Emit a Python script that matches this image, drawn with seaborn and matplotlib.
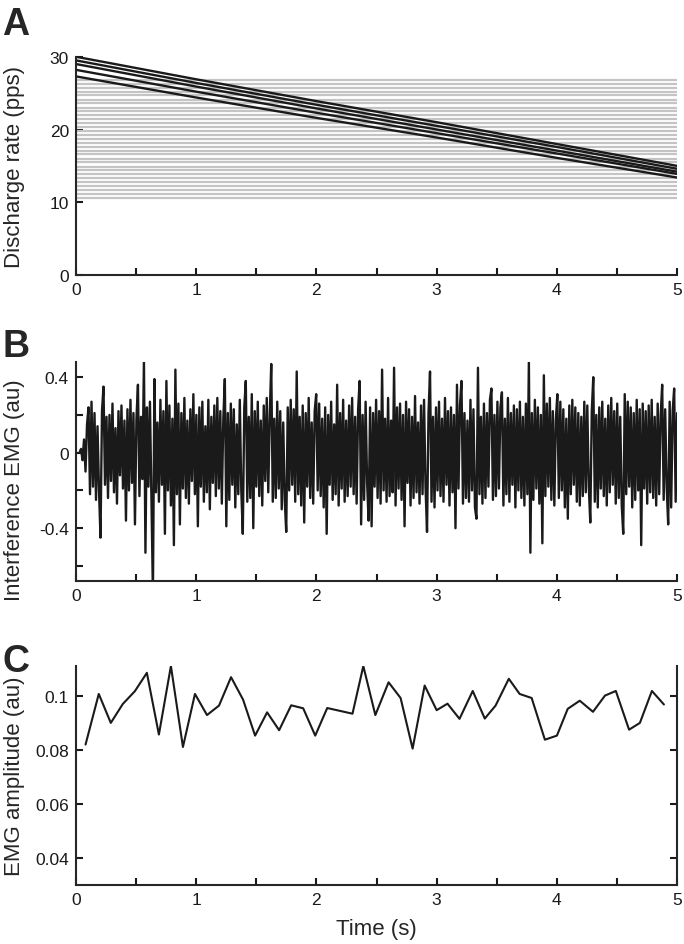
import numpy as np
import pandas as pd
import matplotlib
matplotlib.use('Agg')
import matplotlib.pyplot as plt
import seaborn as sns

# ------------------------------------------------------- #
#                          DATOS                          #
# ------------------------------------------------------- #
# A: discharge rate of the tracked units (black) and the flat gray units
rate_t = [0, 1, 2, 3, 4, 5]
rate_units = {
    'u1': [30.0, 26.9, 23.9, 21.0, 18.0, 15.0],
    'u2': [29.5, 26.4, 23.4, 20.5, 17.6, 14.6],
    'u3': [29.0, 25.9, 22.9, 20.0, 17.1, 14.2],
    'u4': [28.2, 25.2, 22.3, 19.5, 16.7, 13.9],
    'u5': [27.3, 24.4, 21.6, 18.9, 16.1, 13.4],
}
gray_levels = [10.6, 11.1, 11.7, 12.2, 12.8, 13.3, 13.9, 14.4, 14.9, 15.5,
               16.0, 16.6, 17.1, 17.6, 18.2, 18.7, 19.3, 19.8, 20.3, 20.9,
               21.4, 22.0, 22.5, 23.0, 23.6, 24.1, 24.7, 25.2, 25.7, 26.3, 26.8]
time_span = [0, 5]

# B: interference EMG (hundredths of au)
emg_hundredths = [
    0, 2, -4, 7, -10, 15, 24, -22, 27, -18, 21, -25, 14, -20, -45, 22, 35, -17, 19, -24,
    20, -15, 26, -21, 13, -27, 22, -12, 25, -19, 17, -36, 23, -20, 28, -16, 21, -38, 18, 36,
    -23, 19, -14, 49, -53, 24, -18, 27, -25, -75, 39, -21, 16, -26, 28, -17, 22, -43, 38, -20,
    25, -28, 18, -49, 44, -22, 26, -38, 21, -19, 29, -24, 17, -27, 23, -15, 31, -22, 20, -39,
    24, -18, 27, -26, 14, -21, 28, -30, 19, -16, 25, -23, 29, -19, 22, -27, 18, 39, -39, 21,
    -25, 26, -17, 23, -29, 15, -22, 28, -20, -43, 24, 38, -26, 19, -24, 31, -40, 22, -18, 27,
    -23, 17, -28, 25, -15, 29, -21, 20, 47, -26, 18, -24, 27, -19, 22, -30, 16, -25, -42, 24,
    -20, 28, -17, 23, -26, 43, -22, 19, -28, 25, -37, 21, -18, 29, -24, 16, -27, 22, 31, -20,
    26, -23, 18, -29, 24, -43, 20, -17, 27, -25, 15, -22, 36, -28, 21, -19, 28, -26, 17, -23,
    25, -18, 29, -22, 19, -27, 23, 38, -38, 20, -25, 27, -16, -36, 24, -39, 21, -18, 28, -24,
    22, -27, 44, -20, 18, -26, 29, -23, 17, -21, 45, -28, 24, -19, 26, -25, 20, -39, 27, -16,
    23, -28, 19, -24, 30, -21, 16, -27, 25, -22, 28, -18, -42, 21, 43, -26, 19, -29, 24, -20,
    27, -23, 18, -26, 29, -17, 22, -28, 24, -21, 20, -40, 36, -19, 25, 38, -27, 21, -24, 17,
    -26, 28, -20, 23, -29, -35, 45, -22, 19, -27, 26, -24, 21, -18, 28, 34, -25, 20, -23, 27,
    -19, 24, 32, -28, 18, -22, 29, -26, 21, -17, 25, -29, 23, -20, 27, -24, 19, -28, 26, -22,
    48, -53, 21, -25, 28, -19, 24, -27, 20, -48, 41, -23, 26, -18, 29, -25, 22, -28, 17, 31,
    -24, 27, -20, 23, -29, 18, -35, 25, -22, 28, -17, 24, -26, 21, -28, 19, -23, 27, -21, 25,
    -18, -37, 22, 40, -26, 20, -29, 24, -19, 27, -23, 18, -28, 25, -21, 29, -17, 22, -27, 26,
    -24, 19, -28, -43, 31, -22, 27, -18, 24, -29, 21, -25, 28, -20, 23, -49, 26, -19, 22, -27,
    25, -21, 28, -24, 19, -28, 26, -22, 20, 36, -25, 23, -18, -38, 27, -29, 22, 34, -26, 21,
]
emg_start, emg_end = 0.03, 5.0

# C: EMG amplitude
amp_t = [0.08, 0.19, 0.29, 0.39, 0.49, 0.59, 0.69, 0.79, 0.89, 0.99,
         1.09, 1.19, 1.29, 1.39, 1.49, 1.59, 1.69, 1.79, 1.89, 1.99,
         2.09, 2.19, 2.30, 2.39, 2.49, 2.60, 2.70, 2.80, 2.90, 3.00,
         3.09, 3.19, 3.30, 3.40, 3.49, 3.60, 3.69, 3.79, 3.90, 4.00,
         4.09, 4.19, 4.30, 4.40, 4.49, 4.60, 4.69, 4.79, 4.89]
amp_vals = [0.0819, 0.1006, 0.0899, 0.0969, 0.1016, 0.1084, 0.0856, 0.1109, 0.0810, 0.1006,
            0.0928, 0.0963, 0.1068, 0.0985, 0.0852, 0.0938, 0.0872, 0.0964, 0.0953, 0.0852,
            0.0954, 0.0944, 0.0933, 0.1109, 0.0928, 0.1049, 0.0991, 0.0804, 0.1037, 0.0946,
            0.0970, 0.0914, 0.1017, 0.0915, 0.0963, 0.1062, 0.1006, 0.0991, 0.0837, 0.0852,
            0.0951, 0.0981, 0.0940, 0.1000, 0.1017, 0.0874, 0.0899, 0.1017, 0.0967]

# ------------------------------------------------------- #
#                      TABLAS LARGAS                      #
# ------------------------------------------------------- #
rates_df = pd.DataFrame([(u, t, v) for u, vals in rate_units.items()
                         for t, v in zip(rate_t, vals)],
                        columns=['unit', 't', 'rate'])
gray_df = pd.DataFrame([(i, t, lvl) for i, lvl in enumerate(gray_levels)
                        for t in time_span],
                       columns=['unit', 't', 'rate'])
emg_df = pd.DataFrame({'t': np.linspace(emg_start, emg_end, len(emg_hundredths)),
                       'emg': np.array(emg_hundredths) / 100})
amp_df = pd.DataFrame({'t': amp_t, 'amp': amp_vals})

# ------------------------------------------------------- #
#                      VISUALIZACIÓN                      #
# ------------------------------------------------------- #
sns.set_style('ticks')
plt.rcParams['font.family'] = ['Liberation Sans', 'DejaVu Sans']
plt.rcParams['axes.linewidth'] = 1.5

fig = plt.figure(figsize=(6.84, 9.45), dpi=100)
axA = fig.add_axes([0.111, 0.7079, 0.879, 0.231])
axB = fig.add_axes([0.111, 0.3841, 0.879, 0.2317])
axC = fig.add_axes([0.111, 0.0624, 0.879, 0.232])

sns.lineplot(data=gray_df, x='t', y='rate', units='unit', estimator=None,
             color='#c4c4c4', linewidth=1.6, ax=axA)
sns.lineplot(data=rates_df, x='t', y='rate', units='unit', estimator=None,
             color='#1a1a1a', linewidth=1.7, ax=axA)
sns.lineplot(data=emg_df, x='t', y='emg', color='#1a1a1a', linewidth=1.7, ax=axB)
sns.lineplot(data=amp_df, x='t', y='amp', color='#1a1a1a', linewidth=1.5, ax=axC)

tick_fs = 12.5
label_fs = 16

for ax in (axA, axB, axC):
    ax.set_xlim(0, 5)
    ax.set_xticks(np.arange(0, 5.01, 0.5))
    ax.set_xticklabels(['0', '', '1', '', '2', '', '3', '', '4', '', '5'])
    ax.tick_params(direction='in', length=5, width=1.5, labelsize=tick_fs,
                   color='#1a1a1a', labelcolor='#1a1a1a', pad=5)
    ax.set_xlabel('')
    sns.despine(ax=ax)
    ax.yaxis.set_label_coords(-0.085, 0.5)

axA.set_ylim(0, 30)
axA.set_yticks([0, 10, 20, 30])
axA.set_ylabel('Discharge rate (pps)', fontsize=label_fs)

axB.set_ylim(-0.68, 0.48)
axB.set_yticks([-0.6, -0.4, -0.2, 0, 0.2, 0.4])
axB.set_yticklabels(['', '-0.4', '', '0', '', '0.4'])
axB.set_ylabel('Interference EMG (au)', fontsize=label_fs)
axB.yaxis.set_label_coords(-0.085, 0.42)

axC.set_ylim(0.03, 0.111)
axC.set_yticks([0.04, 0.06, 0.08, 0.1])
axC.set_yticklabels(['0.04', '0.06', '0.08', '0.1'])
axC.spines['right'].set_visible(True)
axC.tick_params(axis='y', right=True)
axC.set_ylabel('EMG amplitude (au)', fontsize=label_fs)
axC.set_xlabel('Time (s)', fontsize=label_fs, labelpad=8)

for letter, ypos in zip(['A', 'B', 'C'], [0.993, 0.652, 0.318]):
    fig.text(0.003, ypos, letter, fontsize=27, fontweight='bold', va='top', ha='left')

fig.savefig('out.png', dpi=100)
